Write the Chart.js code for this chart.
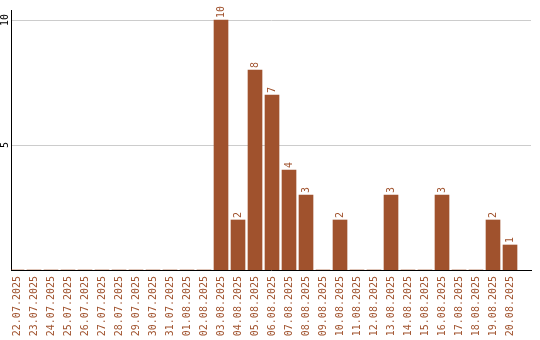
<!DOCTYPE html>
<html>
<head>
<meta charset="utf-8">
<script src="https://cdn.jsdelivr.net/npm/chart.js@4/dist/chart.umd.min.js"></script>
<style>
  body { margin: 0; background: #fff; }
  canvas { display: block; }
</style>
</head>
<body>
<canvas id="dayChart" width="540" height="340"></canvas>
<script>
// Chart data
const dates = [
  "22.07.2025", "23.07.2025", "24.07.2025", "25.07.2025", "26.07.2025",
  "27.07.2025", "28.07.2025", "29.07.2025", "30.07.2025", "31.07.2025",
  "01.08.2025", "02.08.2025", "03.08.2025", "04.08.2025", "05.08.2025",
  "06.08.2025", "07.08.2025", "08.08.2025", "09.08.2025", "10.08.2025",
  "11.08.2025", "12.08.2025", "13.08.2025", "14.08.2025", "15.08.2025",
  "16.08.2025", "17.08.2025", "18.08.2025", "19.08.2025", "20.08.2025"
];
const counts = [
  0, 0, 0, 0, 0, 0, 0, 0, 0, 0,
  0, 0, 10, 2, 8, 7, 4, 3, 0, 2,
  0, 0, 3, 0, 0, 3, 0, 0, 2, 1
];
const yTicks = [5, 10];

const barColor = "#a0522d";

Chart.defaults.font.family = "'DejaVu Sans Mono', monospace";
Chart.defaults.font.size = 10;

// Value labels above the bars, rotated like the axis labels
const valueLabels = {
  id: "valueLabels",
  afterDatasetsDraw(chart) {
    const ctx = chart.ctx;
    const meta = chart.getDatasetMeta(0);
    ctx.save();
    ctx.fillStyle = barColor;
    ctx.font = "10px 'DejaVu Sans Mono'";
    ctx.textAlign = "left";
    ctx.textBaseline = "middle";
    meta.data.forEach(function (bar, i) {
      if (!counts[i]) return;
      ctx.save();
      ctx.translate(bar.x, bar.y - 2);
      ctx.rotate(-Math.PI / 2);
      ctx.fillText(String(counts[i]), 0, 0);
      ctx.restore();
    });
    ctx.restore();
  },
};

const ctx = document.getElementById("dayChart").getContext("2d");
new Chart(ctx, {
  type: "bar",
  data: {
    datasets: [
      {
        data: dates.map((d, i) => ({ x: i, y: counts[i] })),
        backgroundColor: barColor,
        borderWidth: 0,
        barThickness: 14,
      },
    ],
  },
  options: {
    responsive: false,
    animation: false,
    layout: { padding: { top: 10, right: 9, left: 0, bottom: 0 } },
    plugins: {
      legend: { display: false },
      tooltip: { enabled: false },
    },
    scales: {
      x: {
        type: "linear",
        offset: false,
        min: -0.353,
        max: 30.235,
        afterBuildTicks: function (scale) {
          scale.ticks = dates.map((d, i) => ({ value: i }));
        },
        afterFit: function (scale) {
          scale.height = 70;
        },
        grid: { display: false, drawTicks: false, offset: false },
        border: { display: true, color: "#000", width: 1 },
        ticks: {
          autoSkip: false,
          minRotation: 90,
          maxRotation: 90,
          padding: 6,
          color: barColor,
          callback: (v) => dates[v],
        },
      },
      y: {
        min: 0,
        max: 10.4,
        afterBuildTicks: function (scale) {
          scale.ticks = yTicks.map((v) => ({ value: v }));
        },
        afterFit: function (scale) {
          scale.width = 11;
        },
        grid: { color: "#cccccc", drawTicks: false },
        border: { display: true, color: "#000", width: 1 },
        ticks: {
          minRotation: 90,
          maxRotation: 90,
          crossAlign: "center",
          padding: 0,
          color: "#000",
        },
      },
    },
  },
  plugins: [valueLabels],
});
</script>
</body>
</html>
